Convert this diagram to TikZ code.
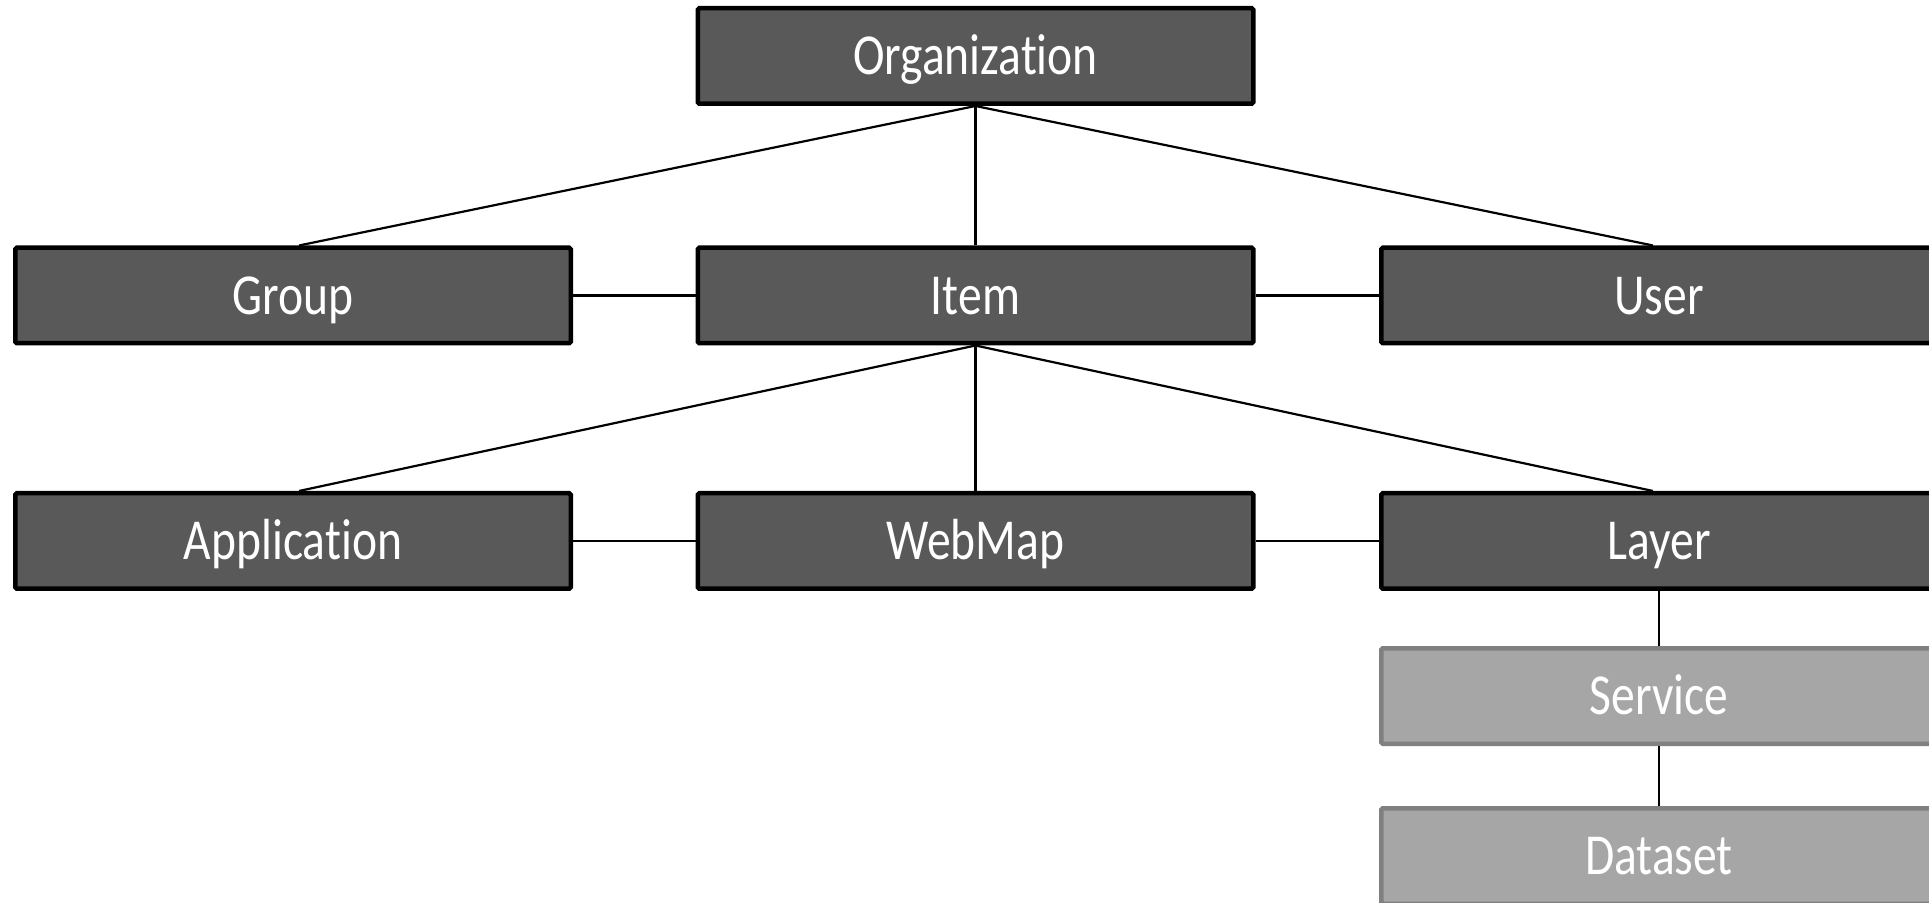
\documentclass[tikz,border=0pt]{standalone}
\usepackage{fontspec}
\setmainfont[FakeStretch=0.82,Ligatures=NoCommon]{Carlito}
\begin{document}
\begin{tikzpicture}[x=0.5pt,y=-0.5pt,
  darkbox/.style={draw=black, fill={rgb,255:red,89;green,89;blue,89}, line width=2.25pt,
    rounded corners=0.8pt, minimum width=277.75pt, minimum height=47.75pt,
    text=white, font=\fontsize{29}{34}\selectfont, inner sep=0pt,
    text height=18.7pt, text depth=0pt},
  lightbox/.style={darkbox, draw={rgb,255:red,128;green,128;blue,128}, fill={rgb,255:red,166;green,166;blue,166}},
  conn/.style={draw=black, line width=1.1pt}]
\useasboundingbox (0,0) rectangle (1929,903);
\node[darkbox] (org) at (975.5,56) {Organization};
\node[darkbox] (grp) at (293,295.5) {Group};
\node[darkbox] (item) at (975.5,295.5) {Item};
\node[darkbox] (usr) at (1659,295.5) {User};
\node[darkbox] (app) at (293,541) {Application};
\node[darkbox] (wm) at (975.5,541) {WebMap};
\node[darkbox] (lyr) at (1659,541) {Layer};
\node[lightbox] (svc) at (1659,696) {Service};
\node[lightbox] (ds) at (1659,856) {Dataset};
\draw[conn] (org.south) -- ([xshift=3pt]grp.north);
\draw[conn] (org.south) -- (item.north);
\draw[conn] (org.south) -- ([xshift=-3pt]usr.north);
\draw[conn] (grp.east) -- (item.west);
\draw[conn] (item.east) -- (usr.west);
\draw[conn] (item.south) -- ([xshift=3pt]app.north);
\draw[conn] (item.south) -- (wm.north);
\draw[conn] (item.south) -- ([xshift=-3pt]lyr.north);
\draw[conn] (app.east) -- (wm.west);
\draw[conn] (wm.east) -- (lyr.west);
\draw[conn] (lyr.south) -- (svc.north);
\draw[conn] (svc.south) -- (ds.north);
\end{tikzpicture}
\end{document}
